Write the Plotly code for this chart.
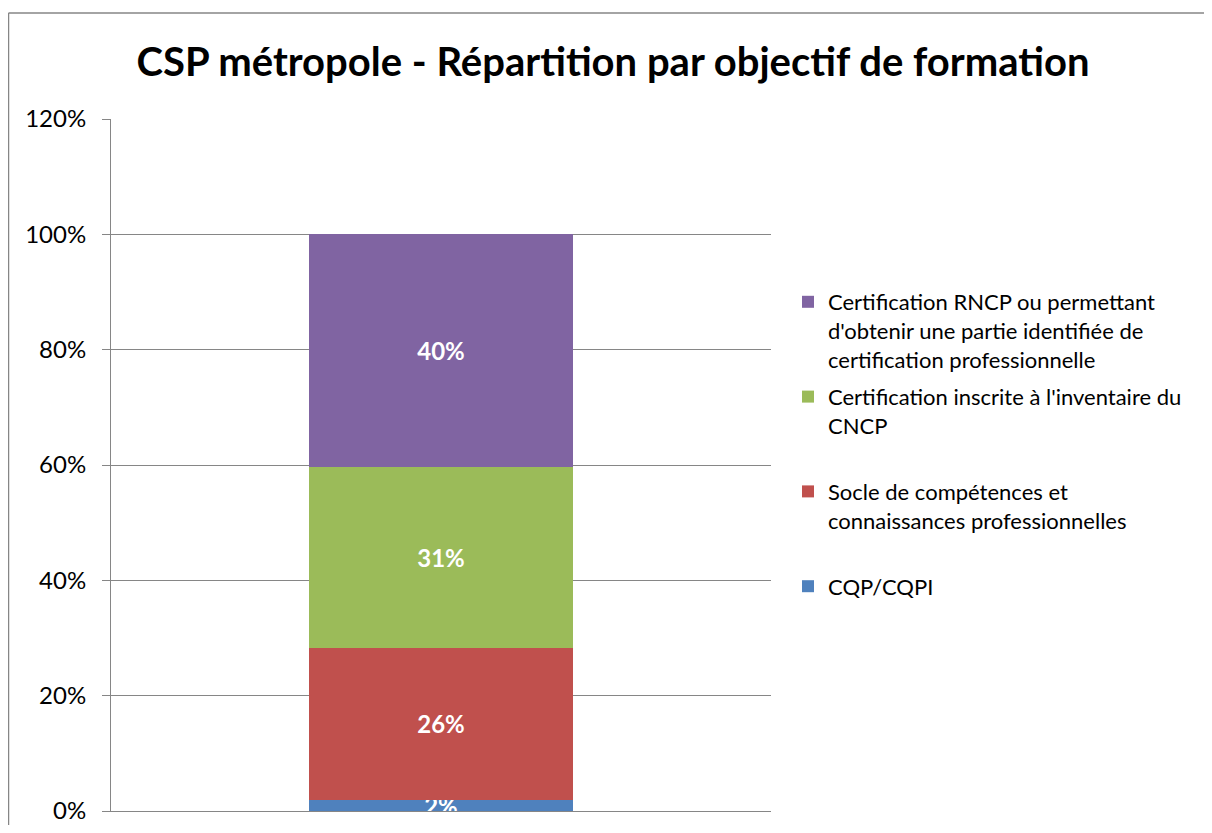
import plotly.graph_objects as go

# one stacked column, shares of the total
category = [""]
series_names = [
    "CQP/CQPI",
    "Socle de compétences et<br>connaissances professionnelles",
    "Certification inscrite à l'inventaire du<br>CNCP",
    "Certification RNCP ou permettant<br>d'obtenir une partie identifiée de<br>certification professionnelle",
]
series_values = [0.019, 0.264, 0.314, 0.403]
series_labels = ["2%", "26%", "31%", "40%"]
series_colors = ["#4F81BD", "#C0504D", "#9BBB59", "#8064A2"]

# page has an 8px body margin, so the figure is drawn 16px smaller
W, H = 1196, 817
L, R, T, B = 103, 763, 111, 803
FONT = "Lato, Carlito, Calibri, sans-serif"

fig = go.Figure()
n = len(series_names)
for i, (name, val, lab, col) in enumerate(zip(series_names, series_values, series_labels, series_colors)):
    # pad legend text to three lines so the entries are evenly spaced
    lines = name.count("<br>") + 1
    legend_name = name + "<br>\u00a0" * (3 - lines) if i > 0 else name
    fig.add_trace(go.Bar(
        x=category, y=[val], name=legend_name, marker_color=col, marker_line_width=0,
        text=[lab], textposition="inside", insidetextanchor="middle",
        textfont=dict(color="white", size=24, family=FONT, weight="bold"),
        width=0.4, legendgroup=f"g{i}", legendrank=n - i,
    ))

grid = "#868686"
fig.update_layout(
    barmode="stack",
    width=W, height=H,
    margin=dict(l=L, r=W - R, t=T, b=H - B, pad=0, autoexpand=False),
    plot_bgcolor="white", paper_bgcolor="white",
    font=dict(family=FONT, size=22, color="black"),
    title=dict(text="<b>CSP métropole - Répartition par objectif de formation</b>",
               font=dict(size=40, family=FONT), x=605 / W, xanchor="center",
               y=1 - 54 / H, yanchor="middle", xref="container", yref="container"),
    uniformtext=dict(minsize=24, mode="show"),
    legend=dict(x=(780 - L) / (R - L), xanchor="left", y=(B - 273) / (B - T), yanchor="top",
                traceorder="grouped", valign="top", font=dict(size=22, family=FONT),
                bgcolor="rgba(0,0,0,0)", tracegroupgap=6),
    showlegend=True,
)
fig.update_yaxes(range=[0, 1.2], dtick=0.2, tickformat=".0%", showgrid=True, gridcolor=grid,
                 gridwidth=1, showline=True, linecolor=grid, linewidth=1, ticks="outside",
                 ticklen=8, tickcolor=grid, zeroline=False, ticklabelstandoff=11,
                 tickfont=dict(size=24, family=FONT), automargin=False)
fig.update_xaxes(showticklabels=False, showline=True, linecolor=grid, linewidth=1, showgrid=False,
                 automargin=False)

# outer chart border (only top and left edges are in view)
bx = (0.5 - L) / (R - L)
by = (B - 5) / (B - T)
for x0, y0, x1, y1 in [(bx, by, (W - L) / (R - L), by), (bx, by, bx, (B - H) / (B - T))]:
    fig.add_shape(type="line", xref="paper", yref="paper", x0=x0, y0=y0, x1=x1, y1=y1,
                  line=dict(color=grid, width=1.5), layer="above")

fig.write_html("out.html")
